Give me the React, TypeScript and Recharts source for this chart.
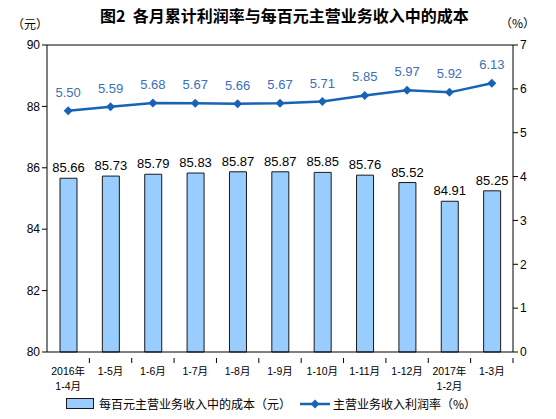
import React from 'react'
import {
  ComposedChart,
  Bar,
  Line,
  XAxis,
  YAxis,
  LabelList,
  ReferenceLine,
} from 'recharts'

const categories = ['2016年\n1-4月', '1-5月', '1-6月', '1-7月', '1-8月', '1-9月', '1-10月', '1-11月', '1-12月', '2017年\n1-2月', '1-3月']
const costPerHundred = [85.66, 85.73, 85.79, 85.83, 85.87, 85.87, 85.85, 85.76, 85.52, 84.91, 85.25]
const profitRate = [5.5, 5.59, 5.68, 5.67, 5.66, 5.67, 5.71, 5.85, 5.97, 5.92, 6.13]
const leftTicks = [80, 82, 84, 86, 88, 90]
const rightTicks = [0, 1, 2, 3, 4, 5, 6, 7]

const data = categories.map((c, i) => ({
  name: c,
  cost: costPerHundred[i],
  rate: profitRate[i],
}))

const W = 556
const H = 419
const PLOT_LEFT = 47
const PLOT_RIGHT = 513
const BAND = (PLOT_RIGHT - PLOT_LEFT) / categories.length
const LINE_COLOR = '#1763b5'
const FONT = '"Liberation Sans", Arial, "Noto Sans CJK SC", sans-serif'
const CJK = '"Noto Sans CJK SC", sans-serif'

const XTick = (props: any) => {
  const { x, y, payload } = props
  const lines = String(payload.value).split('\n')
  return (
    <g>
      <line x1={x + BAND / 2} y1={y - 2} x2={x + BAND / 2} y2={y + 3} stroke="#000" />
      {lines.map((l, i) => (
        <text key={i} x={x} y={y + 15 + i * 15} textAnchor="middle" fontSize={10.5} fill="#000" fontFamily={FONT}>
          {l}
        </text>
      ))}
    </g>
  )
}

const Diamond = (props: any) => {
  const { cx, cy } = props
  if (cx == null || cy == null) return null
  const r = 4.5
  return <polygon points={`${cx},${cy - r} ${cx + r},${cy} ${cx},${cy + r} ${cx - r},${cy}`} fill={LINE_COLOR} />
}

export default function App() {
  return (
    <div style={{ position: 'absolute', left: 0, top: 0, width: W, height: H, background: '#fff', fontFamily: FONT }}>
      <div style={{ position: 'absolute', left: 100, top: 3, whiteSpace: 'nowrap', fontSize: 16, fontWeight: 'bold', fontFamily: CJK, color: '#000' }}>
        图2&nbsp;&nbsp;各月累计利润率与每百元主营业务收入中的成本
      </div>
      <div style={{ position: 'absolute', left: 12, top: 15, fontSize: 12, color: '#000', fontFamily: CJK }}>（元）</div>
      <div style={{ position: 'absolute', left: 500, top: 14, fontSize: 12, color: '#000', fontFamily: CJK }}>（%）</div>
      <ComposedChart width={W} height={H} data={data} margin={{ top: 45, right: 0, bottom: 29, left: 0 }} barSize={17}>
        <XAxis
          dataKey="name"
          xAxisId="x"
          stroke="#000"
          tickLine={false}
          tick={<XTick />}
          interval={0}
          height={38}
        />
        <YAxis
          yAxisId="left"
          domain={[80, 90]}
          ticks={leftTicks}
          width={47}
          stroke="#000"
          tickSize={5}
          tick={{ fill: '#000', fontSize: 12, fontFamily: FONT }}
        />
        <YAxis
          yAxisId="right"
          orientation="right"
          domain={[0, 7]}
          ticks={rightTicks}
          width={43}
          stroke="#000"
          tickSize={5}
          tick={{ fill: '#000', fontSize: 12, fontFamily: FONT }}
        />
        <ReferenceLine xAxisId="x" yAxisId="left" y={90} stroke="#000" />
        <Bar xAxisId="x" yAxisId="left" dataKey="cost" fill="#99ccff" stroke="#1a1a1a" strokeWidth={1} isAnimationActive={false}>
          <LabelList dataKey="cost" position="top" offset={6} fill="#000" fontSize={13} fontFamily={FONT} formatter={(v: any) => Number(v).toFixed(2)} />
        </Bar>
        <Line
          xAxisId="x"
          yAxisId="right"
          dataKey="rate"
          stroke={LINE_COLOR}
          strokeWidth={2.5}
          dot={<Diamond />}
          activeDot={false}
          isAnimationActive={false}
        >
          <LabelList dataKey="rate" position="top" offset={14} fill="#3b6fb8" fontSize={13} fontFamily={FONT} formatter={(v: any) => Number(v).toFixed(2)} />
        </Line>
      </ComposedChart>
      <div style={{ position: 'absolute', left: 66, top: 395, display: 'flex', alignItems: 'center', fontSize: 12, fontFamily: CJK, color: '#000' }}>
        <span style={{ display: 'inline-block', width: 26, height: 9, background: '#99ccff', border: '1px solid #1a1a1a', marginRight: 5 }} />
        每百元主营业务收入中的成本（元）
      </div>
      <div style={{ position: 'absolute', left: 300, top: 395, display: 'flex', alignItems: 'center', fontSize: 12, fontFamily: CJK, color: '#000' }}>
        <svg width={30} height={12} style={{ marginRight: 3 }}>
          <line x1={0} y1={6} x2={30} y2={6} stroke={LINE_COLOR} strokeWidth={2.5} />
          <polygon points="15,1.5 19.5,6 15,10.5 10.5,6" fill={LINE_COLOR} />
        </svg>
        主营业务收入利润率（%）
      </div>
    </div>
  )
}
